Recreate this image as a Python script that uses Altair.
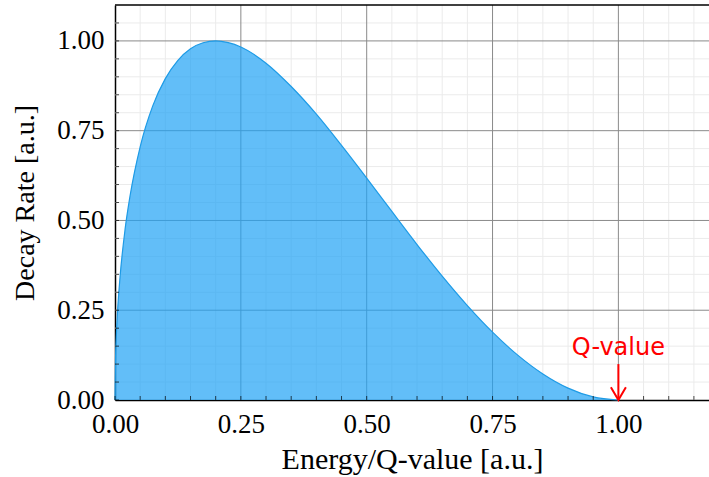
import altair as alt
import pandas as pd

# curve (energy / Q-value vs normalised decay rate)
energy = [0.0, 0.001, 0.0025, 0.005, 0.01, 0.02, 0.03, 0.05, 0.075, 0.1, 0.125, 0.15,
          0.175, 0.2, 0.225, 0.25, 0.3, 0.35, 0.4, 0.45, 0.5, 0.55, 0.6, 0.65, 0.7,
          0.75, 0.8, 0.85, 0.9, 0.95, 1.0]
rate = [0.0, 0.110, 0.174, 0.245, 0.342, 0.475, 0.569, 0.705, 0.819, 0.895, 0.946, 0.978,
        0.995, 1.0, 0.995, 0.983, 0.938, 0.873, 0.796, 0.709, 0.618, 0.525, 0.433, 0.345,
        0.263, 0.189, 0.125, 0.0725, 0.0331, 0.0085, 0.0]

x_major = [0.0, 0.25, 0.5, 0.75, 1.0]
y_major = [0.0, 0.25, 0.5, 0.75, 1.0]
x_minor = [0.05, 0.1, 0.15, 0.2, 0.3, 0.35, 0.4, 0.45, 0.55, 0.6, 0.65, 0.7,
           0.8, 0.85, 0.9, 0.95, 1.05, 1.1, 1.15]
y_minor = [0.05, 0.1, 0.15, 0.2, 0.3, 0.35, 0.4, 0.45, 0.55, 0.6, 0.65, 0.7,
           0.8, 0.85, 0.9, 0.95, 1.05]
x_ticks = x_major + x_minor
y_ticks = y_major + y_minor

q_x = [1.0]
q_label_y = [0.144]
q_arrow_top = [0.1]
q_arrow_tip = [0.0]
q_label = ["Q-value"]

W, H = 594, 395
xscale = alt.Scale(domain=[0, 1.18], nice=False, zero=False)
yscale = alt.Scale(domain=[0, 1.1], nice=False, zero=False)

curve = pd.DataFrame({"e": energy, "r": rate})
annot = pd.DataFrame({"x": q_x, "ly": q_label_y, "ay": q_arrow_top, "ty": q_arrow_tip, "t": q_label})

serif = "Liberation Serif"

x_axis = alt.Axis(values=x_major, format=".2f", grid=False, ticks=False, domainColor="black",
                  domainWidth=1.5, labelFont=serif, labelFontSize=27, labelColor="black",
                  labelFlush=False, labelPadding=11, title="Energy/Q-value [a.u.]", titleFont=serif,
                  titleFontSize=30, titleFontWeight="normal", titleColor="black", titlePadding=7)
y_axis = alt.Axis(values=y_major, format=".2f", grid=False, ticks=False, domainColor="black",
                  domainWidth=1.5, labelFont=serif, labelFontSize=27, labelColor="black",
                  labelFlush=False, labelPadding=11, title="Decay Rate [a.u.]", titleFont=serif,
                  titleFontSize=28, titleFontWeight="normal", titleColor="black", titlePadding=17)


def X(f):
    return alt.X(f, scale=xscale, axis=x_axis)


def Y(f):
    return alt.Y(f, scale=yscale, axis=y_axis)


minor_x = alt.Chart(pd.DataFrame({"g": x_minor})).mark_rule(color="#ebebeb", strokeWidth=1).encode(
    x=X("g:Q"))
minor_y = alt.Chart(pd.DataFrame({"g": y_minor})).mark_rule(color="#ebebeb", strokeWidth=1).encode(
    y=Y("g:Q"))
major_x = alt.Chart(pd.DataFrame({"g": x_major[1:]})).mark_rule(color="#8a8a8a", strokeWidth=1).encode(
    x=X("g:Q"))
major_y = alt.Chart(pd.DataFrame({"g": y_major[1:]})).mark_rule(color="#8a8a8a", strokeWidth=1).encode(
    y=Y("g:Q"))

area = alt.Chart(curve).mark_area(color="#20A2F5", opacity=0.7, interpolate="monotone").encode(
    x=X("e:Q"), y=Y("r:Q"))
line = alt.Chart(curve).mark_line(color="#1E9BE6", strokeWidth=1.2, interpolate="monotone").encode(
    x=X("e:Q"), y=Y("r:Q"))

tick_x = alt.Chart(pd.DataFrame({"g": x_ticks})).mark_tick(
    orient="vertical", size=4, thickness=1, color="black").encode(
    x=X("g:Q"), y=alt.value(H - 2))
tick_y = alt.Chart(pd.DataFrame({"g": y_ticks})).mark_tick(
    orient="horizontal", size=4, thickness=1, color="black").encode(
    y=Y("g:Q"), x=alt.value(2))

top_border = alt.Chart(pd.DataFrame({"a": [0]})).mark_rule(color="black", strokeWidth=1.5).encode(
    y=alt.value(0))

q_text = alt.Chart(annot).mark_text(font="DejaVu Sans", fontSize=24, color="red",
                                    align="center", baseline="middle").encode(
    x=X("x:Q"), y=Y("ly:Q"), text="t:N")
q_shaft = alt.Chart(annot).mark_rule(color="red", strokeWidth=2).encode(
    x=X("x:Q"), y=Y("ay:Q"), y2="ty:Q")
q_head = alt.Chart(annot).mark_point(shape="M -1 -1.7 L 0 0 L 1 -1.7", filled=False,
                                     color="red", strokeWidth=2, size=225, opacity=1).encode(
    x=X("x:Q"), y=Y("ty:Q"))

chart = alt.layer(minor_x, minor_y, major_x, major_y, area, line, tick_x, tick_y,
                  top_border, q_shaft, q_head, q_text).properties(
    width=W, height=H,
    autosize=alt.AutoSizeParams(type="none"),
    padding={"left": 115, "top": 5, "right": 0, "bottom": 77},
    background="white",
).configure_view(stroke=None)

chart.save("out.html", embed_options={"renderer": "svg", "actions": False})
